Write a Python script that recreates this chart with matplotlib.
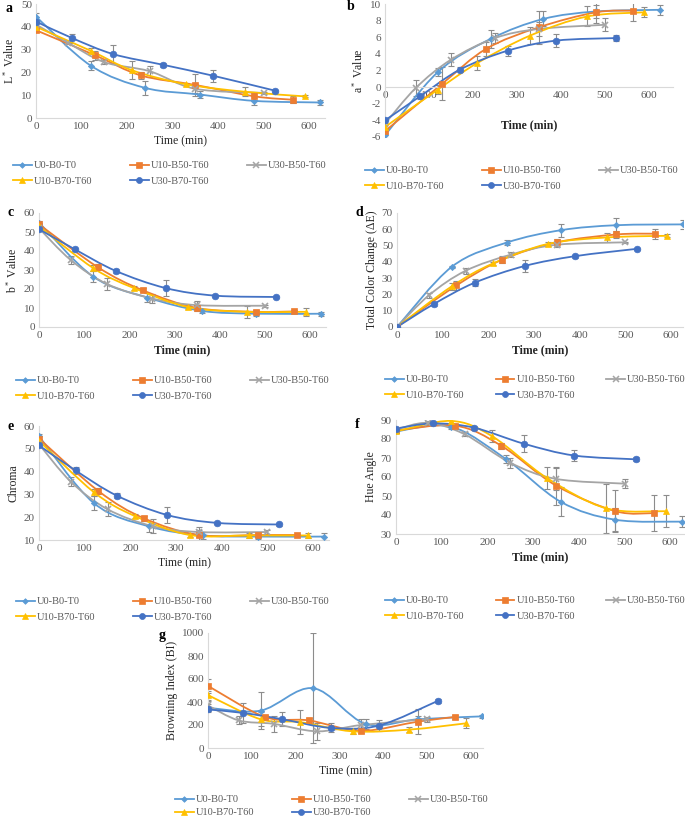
import numpy as np
import matplotlib
matplotlib.use("Agg")
import matplotlib.pyplot as plt
from matplotlib.path import Path
from matplotlib.patches import PathPatch
from matplotlib.lines import Line2D

plt.rcParams["font.family"] = "Liberation Serif"
plt.rcParams["mathtext.fontset"] = "custom"
plt.rcParams["mathtext.rm"] = "Liberation Serif"
plt.rcParams["mathtext.it"] = "Liberation Serif:italic"
plt.rcParams["axes.unicode_minus"] = False

# series
names = ["U0-B0-T0", "U10-B50-T60", "U30-B50-T60", "U10-B70-T60", "U30-B70-T60"]
colors = ["#5B9BD5", "#ED7D31", "#A5A5A5", "#FFC000", "#4472C4"]
markers = ["D", "s", "x", "^", "o"]
msizes = [3.2, 4.2, 4.5, 4.8, 4.8]

# sampling times (min) per series
t_u0 = [0, 120, 240, 360, 480, 625]
t_u10b50 = [0, 130, 230, 350, 480, 565]
t_u30b50 = [0, 70, 150, 250, 350, 500]
t_u10b70 = [0, 120, 210, 330, 460, 590]
t_u30b70 = [0, 80, 170, 280, 390, 525]
times = [t_u0, t_u10b50, t_u30b50, t_u10b70, t_u30b70]

# a - L*
L_val = [[44.5, 23, 13.2, 10.3, 7.5, 6.8],
         [38.5, 27.5, 18.7, 14.5, 9.5, 8.0],
         [41, 33, 24.5, 20.5, 12.8, 11],
         [40, 29.5, 21, 14.8, 11.5, 9.5],
         [42.3, 35, 28, 23.3, 18.5, 12]]
L_err = [[1.5, 2, 3.2, 1.5, 2, 1],
         [0.5, 2, 1.5, 4.7, 1.5, 1.5],
         [1, 0.5, 1, 2.5, 2, 0.5],
         [0.5, 1, 4, 0.5, 2, 0.5],
         [1, 2, 4, 1, 2.5, 0.5]]

# b - a*
a_val = [[-5.8, 1.8, 5.8, 8.2, 9.1, 9.3],
         [-5.3, 0.4, 4.6, 7.2, 9.0, 9.2],
         [-4.4, -0.1, 3.3, 5.9, 7.0, 7.5],
         [-4.8, -0.3, 2.9, 6.2, 8.5, 9.0],
         [-4.0, -1.1, 2.1, 4.4, 5.6, 5.9]]
a_err = [[0.3, 0.5, 1.1, 0.9, 0.8, 0.6],
         [0.3, 2.0, 0.8, 2.0, 1.3, 1.3],
         [0.5, 1.0, 0.8, 0.6, 0.8, 0.8],
         [0.3, 0.5, 0.8, 1.0, 1.2, 0.6],
         [0.3, 0.3, 0.3, 0.6, 0.8, 0.4]]

# c - b*
b_val = [[55, 26.5, 15.5, 8.5, 7, 7],
         [54, 31.5, 19.3, 10, 8, 8.2],
         [52, 35.3, 22.7, 15, 11.5, 11.2],
         [53, 31, 20.5, 10.5, 8, 8],
         [51.5, 40.8, 29.5, 20.5, 16.5, 15.8]]
b_err = [[1, 3, 2.5, 1, 1, 1],
         [1, 1.5, 1, 1.5, 1, 1],
         [1, 2, 3, 2.5, 2, 0.5],
         [1, 1.5, 1, 1, 3, 2],
         [0.5, 1, 1, 4, 0.5, 0.5]]

# d - total colour change
dE_val = [[0, 37, 51.8, 59.5, 62.5, 63],
          [0, 25.5, 41.3, 52, 56.8, 57.3],
          [0, 19.5, 34.5, 44.5, 50.5, 52],
          [0, 25, 39, 51, 55, 56],
          [0, 14, 27.2, 37.5, 43.5, 48]]
dE_err = [[0.5, 0.5, 1.5, 4, 4.5, 3],
          [0.5, 3, 2, 2, 2, 3],
          [0.5, 1.5, 2, 1.5, 1.5, 0.5],
          [0.5, 2, 1, 1, 2.5, 1],
          [0.5, 1, 2, 3.5, 1, 0.5]]

# e - chroma
C_val = [[55.5, 26.2, 16, 12, 11.5, 11.5],
         [54.5, 31.5, 19.5, 12.2, 12.2, 12.2],
         [52, 35.5, 23.5, 16, 13.5, 13.5],
         [53.5, 31, 20.5, 12.2, 12, 12],
         [51.5, 40.5, 29.5, 21, 17.5, 16.8]]
C_err = [[1, 3, 2.5, 1.5, 1, 1.5],
         [1, 1.5, 1, 2, 1, 0.5],
         [1, 2, 3, 3, 2, 1],
         [1, 1.5, 1, 1, 1, 1],
         [0.5, 1.5, 1, 3.5, 0.5, 0.5]]

# f - hue angle
h_val = [[84, 86.5, 69.5, 47, 37.5, 36.5],
         [84.5, 87, 76.5, 55.5, 42, 41],
         [85, 88.5, 82.5, 67.5, 59, 56.5],
         [84, 89.5, 81.5, 59.5, 43.5, 42],
         [85.5, 88.2, 86, 77.5, 71.3, 69.3]]
h_err = [[1, 1, 2, 7.5, 6, 3],
         [1, 1, 1.5, 10, 11, 9.5],
         [1, 1, 1, 2.5, 6, 2.5],
         [1, 1, 3, 6, 13, 8.5],
         [1, 1, 1, 4.5, 3, 1]]

# g - browning index
BI_val = [[350, 325, 520, 210, 250, 275],
          [540, 270, 240, 150, 230, 270],
          [370, 240, 210, 145, 200, 250],
          [460, 250, 225, 145, 160, 215],
          [335, 305, 250, 175, 195, 410]]
BI_err = [[30, 160, 480, 45, 30, 15],
          [60, 20, 20, 20, 110, 20],
          [40, 35, 70, 75, 50, 20],
          [40, 60, 105, 20, 20, 45],
          [20, 85, 60, 40, 50, 20]]

W, H = 685, 819
fig = plt.figure(figsize=(W / 100, H / 100), dpi=100)


def px_axes(left, top, right, bottom):
    return fig.add_axes([left / W, 1 - bottom / H, (right - left) / W, (bottom - top) / H])


def smooth_line(ax, x, y, color):
    # Excel-style smoothed line (Catmull-Rom as cubic Bezier)
    pts = np.column_stack([x, y]).astype(float)
    n = len(pts)
    verts = [pts[0]]
    codes = [Path.MOVETO]
    for i in range(n - 1):
        p0 = pts[max(i - 1, 0)]
        p1 = pts[i]
        p2 = pts[i + 1]
        p3 = pts[min(i + 2, n - 1)]
        verts += [p1 + (p2 - p0) / 6, p2 - (p3 - p1) / 6, p2]
        codes += [Path.CURVE4] * 3
    ax.add_patch(PathPatch(Path(verts, codes), fill=False, edgecolor=color, lw=1.3, zorder=2))


def panel(box, xmax, vals, errs, ylim, ystep, ylabel, letter, letter_xy, leg_xy,
          bold_x=True, zero_axis=False, xpad=3, colsp=3.6, rowsp=0.6):
    ax = px_axes(*box)
    for i in range(5):
        ax.errorbar(times[i], vals[i], yerr=errs[i], fmt="none", ecolor="#8C8C8C",
                    elinewidth=0.8, capsize=2, capthick=0.8, zorder=1)
    for i in range(5):
        smooth_line(ax, times[i], vals[i], colors[i])
        ax.plot(times[i], vals[i], linestyle="none", marker=markers[i], ms=msizes[i],
                color=colors[i], mew=1.2 if markers[i] == "x" else 0.5, zorder=3)
    ax.set_xlim(0, xmax)
    ax.set_ylim(*ylim)
    ax.set_xticks(np.arange(0, 601, 100))
    ax.set_yticks(np.arange(ylim[0], ylim[1] + ystep / 2, ystep))
    for s in ["top", "right"]:
        ax.spines[s].set_visible(False)
    for s in ["left", "bottom"]:
        ax.spines[s].set_color("#D9D9D9")
        ax.spines[s].set_linewidth(0.8)
    if zero_axis:
        ax.spines["bottom"].set_position(("data", 0))
    ax.tick_params(length=0, labelsize=8, labelcolor="#595959", pad=3)
    ax.set_xlabel("Time (min)", fontsize=8.5, color="#262626",
                  fontweight="bold" if bold_x else "normal", labelpad=xpad)
    ax.set_ylabel(ylabel, fontsize=8.5, color="#262626", labelpad=3)
    fig.text(letter_xy[0] / W, 1 - letter_xy[1] / H, letter, fontsize=10, fontweight="bold",
             va="center", ha="left")

    handles = [Line2D([], [], color=colors[i], marker=markers[i], ms=msizes[i] * 0.9, lw=1.3,
                      mew=1.1 if markers[i] == "x" else 0.5) for i in range(5)]
    order = [0, 3, 1, 4, 2]
    fig.legend([handles[k] for k in order], [names[k] for k in order], ncol=3,
               loc="upper left", bbox_to_anchor=(leg_xy[0] / W, 1 - leg_xy[1] / H),
               frameon=False, fontsize=7.5, handlelength=1.8, handletextpad=0.2,
               columnspacing=colsp, labelspacing=rowsp, borderpad=0, borderaxespad=0,
               labelcolor="#595959")
    return ax


panel((36, 4, 325, 118), 635, L_val, L_err, (0, 50), 10, r"L$^*$ Value", "a", (5, 8), (13, 161),
      bold_x=False)
panel((385, 4, 673, 137), 655, a_val, a_err, (-6, 10), 2, r"a$^*$ Value", "b", (347, 6), (365, 166),
      zero_axis=True, xpad=14)
panel((39, 213, 326, 327), 635, b_val, b_err, (0, 60), 10, r"b$^*$ Value", "c", (7, 213), (16, 376))
panel((397, 213, 683, 327), 626, dE_val, dE_err, (0, 70), 10, "Total Color Change (ΔE)", "d",
      (355, 212), (385, 375), colsp=3.0)
panel((39, 426, 329, 540), 635, C_val, C_err, (10, 60), 10, "Chroma", "e", (7, 426), (16, 597),
      bold_x=False)
panel((396, 420, 684, 534), 630, h_val, h_err, (30, 90), 10, "Hue Angle", "f", (355, 424), (385, 596),
      colsp=3.0)
panel((208, 633, 483, 748), 628, BI_val, BI_err, (0, 1000), 200, "Browning Index (BI)", "g",
      (159, 635), (175, 795), bold_x=False, rowsp=0.35)

fig.savefig("out.png", dpi=100)
